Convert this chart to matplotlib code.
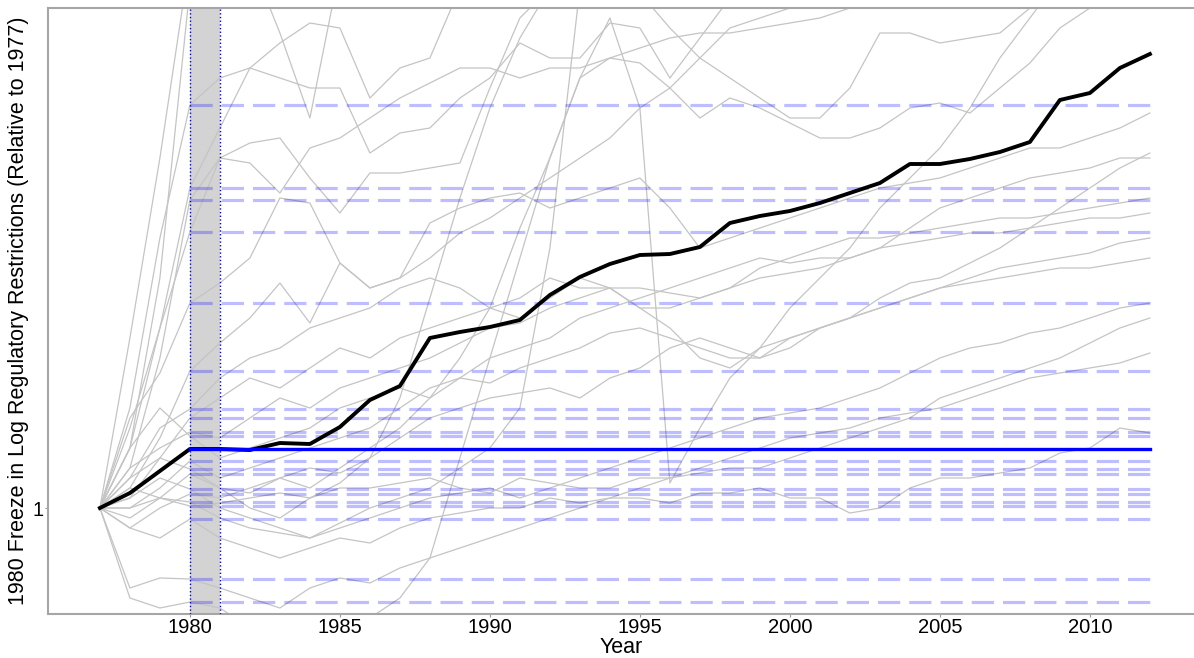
import matplotlib
matplotlib.use("Agg")
import matplotlib.pyplot as plt

plt.rcParams['font.family'] = ['Liberation Sans', 'DejaVu Sans']
plt.rcParams['lines.scale_dashes'] = False

years = list(range(1977, 2013))
freeze_year = 1980

# promedio de todas las industrias (linea negra)
average = [1.000, 1.030, 1.074, 1.118, 1.118, 1.116, 1.130, 1.128, 1.162, 1.216,
           1.244, 1.340, 1.352, 1.362, 1.376, 1.426, 1.462, 1.488, 1.506, 1.508,
           1.522, 1.570, 1.584, 1.594, 1.610, 1.630, 1.650, 1.688, 1.688, 1.698,
           1.712, 1.732, 1.816, 1.830, 1.880, 1.908]

# industrias individuales (lineas grises)
ind01 = [1.00, 1.20, 1.54, 1.806, 1.86, 1.88, 1.86, 1.84, 1.84, 1.71, 1.75, 1.76, 1.82, 1.86, 1.93, 1.90, 1.90, 1.97,
         1.96, 1.86, 1.94, 2.02, 2.04, 2.06, 2.08, 2.08, 2.10, 2.10, 2.12, 2.12, 2.14, 2.14, 2.16, 2.16, 2.18, 2.18]
ind02 = [1.00, 1.12, 1.36, 1.640, 1.76, 1.88, 1.93, 1.97, 1.96, 1.82, 1.88, 1.90, 2.04, 2.08, 2.10, 2.10, 2.12, 2.12,
         2.14, 2.14, 2.16, 2.16, 2.18, 2.18, 2.20, 2.20, 2.22, 2.22, 2.24, 2.24, 2.26, 2.26, 2.28, 2.28, 2.30, 2.30]
ind03 = [1.00, 1.08, 1.30, 1.616, 1.70, 1.69, 1.63, 1.72, 1.74, 1.78, 1.82, 1.85, 1.88, 1.88, 1.86, 1.88, 1.88, 1.90,
         1.89, 1.84, 1.90, 1.96, 1.98, 2.00, 2.02, 2.04, 2.06, 2.06, 2.08, 2.10, 2.10, 2.12, 2.12, 2.14, 2.14, 2.14]
ind04 = [1.00, 1.16, 1.36, 1.552, 1.70, 1.73, 1.74, 1.66, 1.59, 1.67, 1.67, 1.68, 1.69, 1.84, 1.98, 2.04, 2.06, 2.05,
         2.03, 1.96, 1.90, 1.86, 1.82, 1.78, 1.78, 1.84, 1.95, 1.95, 1.93, 1.94, 1.95, 2.00, 2.05, 2.08, 2.10, 2.12]
ind05 = [1.00, 1.18, 1.27, 1.410, 1.45, 1.50, 1.62, 1.61, 1.49, 1.44, 1.46, 1.50, 1.55, 1.58, 1.62, 1.66, 1.70, 1.74,
         1.80, 1.84, 1.78, 1.82, 1.80, 1.77, 1.74, 1.74, 1.76, 1.80, 1.81, 1.79, 1.84, 1.89, 1.96, 2.00, 2.04, 2.06]
ind06 = [1.00, 1.04, 1.14, 1.274, 1.33, 1.38, 1.45, 1.37, 1.49, 1.44, 1.46, 1.57, 1.60, 1.62, 1.63, 1.60, 1.62, 1.64,
         1.66, 1.60, 1.52, 1.54, 1.56, 1.58, 1.60, 1.62, 1.64, 1.65, 1.66, 1.68, 1.70, 1.72, 1.72, 1.74, 1.76, 1.79]
ind07 = [1.00, 1.06, 1.16, 1.198, 1.26, 1.30, 1.32, 1.36, 1.38, 1.40, 1.44, 1.46, 1.44, 1.40, 1.38, 1.42, 1.46, 1.44,
         1.40, 1.36, 1.30, 1.28, 1.32, 1.34, 1.36, 1.38, 1.42, 1.45, 1.46, 1.49, 1.52, 1.56, 1.60, 1.64, 1.68, 1.71]
ind08 = [1.00, 1.02, 1.10, 1.180, 1.22, 1.26, 1.24, 1.28, 1.32, 1.30, 1.34, 1.36, 1.38, 1.40, 1.42, 1.46, 1.44, 1.44,
         1.40, 1.40, 1.42, 1.44, 1.46, 1.47, 1.48, 1.50, 1.52, 1.56, 1.60, 1.62, 1.64, 1.66, 1.67, 1.68, 1.70, 1.70]
ind09 = [1.00, 1.08, 1.12, 1.152, 1.14, 1.18, 1.22, 1.20, 1.24, 1.26, 1.28, 1.30, 1.33, 1.36, 1.37, 1.40, 1.42, 1.44,
         1.44, 1.43, 1.42, 1.44, 1.48, 1.50, 1.52, 1.54, 1.54, 1.55, 1.56, 1.57, 1.58, 1.58, 1.59, 1.60, 1.61, 1.62]
ind10 = [1.00, 1.12, 1.20, 1.144, 1.10, 1.12, 1.14, 1.16, 1.20, 1.22, 1.24, 1.22, 1.26, 1.30, 1.32, 1.34, 1.38, 1.40,
         1.42, 1.44, 1.46, 1.48, 1.50, 1.49, 1.50, 1.50, 1.52, 1.53, 1.54, 1.55, 1.55, 1.56, 1.57, 1.58, 1.58, 1.59]
ind11 = [1.00, 1.00, 1.04, 1.094, 1.06, 1.08, 1.10, 1.12, 1.14, 1.16, 1.20, 1.24, 1.26, 1.25, 1.28, 1.30, 1.32, 1.35,
         1.36, 1.34, 1.32, 1.30, 1.30, 1.34, 1.36, 1.38, 1.40, 1.42, 1.44, 1.46, 1.48, 1.49, 1.50, 1.51, 1.53, 1.54]
ind12 = [1.00, 1.06, 1.10, 1.078, 1.04, 1.03, 1.06, 1.08, 1.07, 1.10, 1.14, 1.18, 1.20, 1.22, 1.23, 1.24, 1.22, 1.26,
         1.28, 1.32, 1.34, 1.32, 1.30, 1.32, 1.36, 1.38, 1.40, 1.42, 1.44, 1.45, 1.46, 1.47, 1.48, 1.48, 1.49, 1.50]
ind13 = [1.00, 0.98, 1.02, 1.068, 1.04, 1.00, 0.98, 1.02, 1.05, 1.10, 1.22, 1.42, 1.62, 1.80, 1.94, 2.04, 2.06, 2.05,
         2.04, 2.02, 2.06, 2.08, 2.10, 2.10, 2.12, 2.12, 2.14, 2.14, 2.16, 2.16, 2.18, 2.18, 2.20, 2.20, 2.22, 2.22]
ind14 = [1.00, 1.02, 1.06, 1.038, 1.00, 0.98, 0.96, 0.94, 0.97, 1.00, 1.02, 1.04, 1.08, 1.12, 1.20, 1.52, 2.04, 2.06,
         2.08, 2.08, 2.10, 2.10, 2.12, 2.12, 2.14, 2.14, 2.16, 2.16, 2.18, 2.18, 2.20, 2.20, 2.22, 2.22, 2.24, 2.24]
ind15 = [1.00, 0.96, 1.00, 1.028, 1.02, 1.04, 1.06, 1.04, 1.08, 1.12, 1.16, 1.22, 1.30, 1.40, 1.56, 1.70, 1.86, 1.98,
         1.80, 1.05, 1.16, 1.26, 1.32, 1.40, 1.46, 1.52, 1.60, 1.66, 1.72, 1.80, 1.90, 1.98, 2.06, 2.10, 2.12, 2.14]
ind16 = [1.00, 1.04, 1.02, 1.012, 0.98, 0.96, 0.95, 0.94, 0.96, 0.98, 1.00, 1.02, 1.03, 1.04, 1.02, 1.04, 1.06, 1.08,
         1.10, 1.12, 1.14, 1.16, 1.18, 1.19, 1.20, 1.22, 1.24, 1.27, 1.30, 1.32, 1.33, 1.35, 1.36, 1.38, 1.40, 1.41]
ind17 = [1.00, 1.00, 1.02, 1.004, 1.01, 1.02, 1.03, 1.02, 1.04, 1.04, 1.05, 1.06, 1.04, 1.03, 1.06, 1.05, 1.04, 1.04,
         1.06, 1.06, 1.07, 1.08, 1.08, 1.10, 1.12, 1.14, 1.16, 1.18, 1.22, 1.24, 1.26, 1.28, 1.30, 1.33, 1.36, 1.38]
ind18 = [1.00, 0.96, 0.94, 0.978, 0.94, 0.92, 0.90, 0.92, 0.94, 0.93, 0.96, 0.98, 0.99, 1.00, 1.00, 1.02, 1.01, 1.02,
         1.02, 1.01, 1.03, 1.03, 1.04, 1.02, 1.02, 0.99, 1.00, 1.04, 1.06, 1.06, 1.07, 1.08, 1.11, 1.12, 1.16, 1.15]
ind19 = [1.00, 0.84, 0.86, 0.858, 0.84, 0.82, 0.80, 0.84, 0.86, 0.85, 0.88, 0.90, 0.92, 0.94, 0.96, 0.98, 1.00, 1.02,
         1.04, 1.06, 1.08, 1.10, 1.12, 1.14, 1.15, 1.16, 1.18, 1.19, 1.20, 1.22, 1.24, 1.26, 1.27, 1.28, 1.29, 1.31]
ind20 = [1.00, 0.82, 0.80, 0.812, 0.80, 0.76, 0.74, 0.72, 0.74, 0.78, 0.82, 0.90, 1.10, 1.30, 1.50, 1.70, 1.86, 1.90,
         1.92, 1.94, 1.95, 1.95, 1.96, 1.97, 1.98, 2.00, 2.02, 2.04, 2.06, 2.08, 2.10, 2.12, 2.14, 2.16, 2.18, 2.20]
ind21 = [1.00, 1.34, 1.70, 2.10, 2.20, 2.24, 2.26, 2.28, 2.30, 2.30, 2.32, 2.32, 2.34, 2.34, 2.36, 2.36, 2.38, 2.38,
         2.40, 2.40, 2.42, 2.42, 2.44, 2.44, 2.46, 2.46, 2.48, 2.48, 2.50, 2.50, 2.52, 2.52, 2.54, 2.54, 2.56, 2.56]
ind22 = [1.00, 1.12, 1.46, 2.04, 2.08, 2.10, 1.95, 1.78, 2.08, 2.15, 2.18, 2.20, 2.22, 2.24, 2.26, 2.28, 2.30, 2.30,
         2.32, 2.32, 2.34, 2.34, 2.36, 2.36, 2.38, 2.38, 2.40, 2.40, 2.42, 2.42, 2.44, 2.44, 2.46, 2.46, 2.48, 2.48]

industries = [ind01, ind02, ind03, ind04, ind05, ind06, ind07, ind08, ind09, ind10, ind11,
              ind12, ind13, ind14, ind15, ind16, ind17, ind18, ind19, ind20, ind21, ind22]

i0 = years.index(freeze_year)

fig = plt.figure(figsize=(11.94, 6.58), dpi=100)
ax = fig.add_axes([48 / 1194, 44 / 658, 1146 / 1194, 606 / 658])

# banda de 1980
ax.axvspan(freeze_year, freeze_year + 1, color='#d3d3d3', lw=0, zorder=0)
ax.axvline(freeze_year, color='blue', ls=':', lw=1.0, zorder=6)
ax.axvline(freeze_year + 1, color='blue', ls=':', lw=1.0, zorder=6)

for serie in industries:
    ax.plot(years, serie, color='#c4c4c4', lw=0.9, zorder=1)

# niveles congelados en 1980
for serie in industries:
    ax.plot([freeze_year, years[-1]], [serie[i0], serie[i0]], color='blue', alpha=0.26,
            lw=2.3, dashes=(16, 6.5), solid_capstyle='butt', dash_capstyle='butt', zorder=2)

ax.plot(years, average, color='black', lw=2.8, zorder=4)
ax.plot([freeze_year, years[-1]], [average[i0], average[i0]], color='blue', lw=2.4, zorder=5)

ax.set_xlim(1975.27, 2013.47)
ax.set_ylim(0.788, 2.0)
ax.set_xticks(range(1980, 2011, 5))
ax.set_yticks([1])
ax.set_yticklabels(['1'])
ax.tick_params(labelsize=14.5, length=2, color='#999999', pad=1)

for side in ['left', 'bottom', 'top']:
    ax.spines[side].set_color('#a6a6a6')
    ax.spines[side].set_linewidth(1.5)
ax.spines['right'].set_visible(False)

ax.set_xlabel('Year', fontsize=15.5, labelpad=0)
ax.set_ylabel('1980 Freeze in Log Regulatory Restrictions (Relative to 1977)', fontsize=15.5, labelpad=3)

fig.savefig('out.png', dpi=100)
